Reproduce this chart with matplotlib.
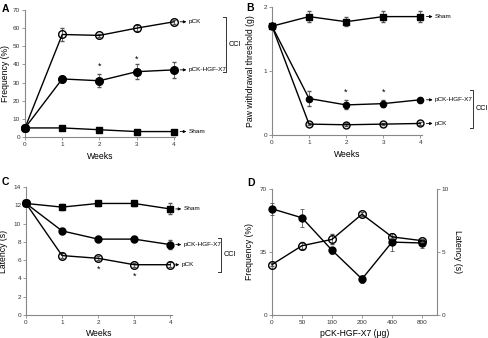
import matplotlib
matplotlib.use("Agg")
import matplotlib.pyplot as plt
import matplotlib.transforms as mt
import numpy as np

plt.rcParams['font.family'] = ['Liberation Sans', 'DejaVu Sans']

weeks = [0, 1, 2, 3, 4]

# A - frequency (%)
a_pck = [5, 56.5, 56, 60, 63.5]
a_pck_err = [0, 3.5, 1, 1.5, 1.2]
a_hgf = [5, 32, 31, 36, 37]
a_hgf_err = [0, 1.5, 3.5, 4, 4.5]
a_sham = [5, 5, 4, 3, 3]
a_sham_err = [0, 0.5, 0.5, 0.5, 0.5]

# B - paw withdrawal threshold (g)
b_sham = [1.7, 1.85, 1.77, 1.85, 1.85]
b_sham_err = [0, 0.09, 0.07, 0.09, 0.09]
b_hgf = [1.7, 0.57, 0.47, 0.49, 0.55]
b_hgf_err = [0, 0.11, 0.07, 0.06, 0.02]
b_pck = [1.7, 0.17, 0.16, 0.17, 0.18]
b_pck_err = [0, 0.02, 0.02, 0.02, 0.02]

# C - latency (s)
c_sham = [12.2, 11.8, 12.2, 12.2, 11.6]
c_sham_err = [0.2, 0.3, 0.3, 0.3, 0.6]
c_hgf = [12.2, 9.2, 8.3, 8.3, 7.7]
c_hgf_err = [0.2, 0.3, 0.3, 0.3, 0.5]
c_pck = [12.2, 6.5, 6.2, 5.5, 5.5]
c_pck_err = [0.2, 0.3, 0.2, 0.2, 0.3]

# D - dose response
doses = ['0', '50', '100', '200', '400', '800']
d_freq = [59, 54, 36, 20, 40.5, 40]
d_freq_err = [3.5, 5, 2, 2, 5, 2.5]
d_lat = [4.0, 5.5, 6.0, 8.0, 6.2, 5.9]
d_lat_err = [0.1, 0.3, 0.4, 0.15, 0.1, 0.1]

W, H = 489, 338
fig = plt.figure(figsize=(W / 100, H / 100), dpi=100)
gray = '#888888'
fs = 4.6      # tick labels / tags
lfs = 6.2     # axis labels


def box(l, r, b, t):
    return [l / W, (H - b) / H, (r - l) / W, (b - t) / H]


def style(ax):
    for s in ['top', 'right']:
        ax.spines[s].set_visible(False)
    for s in ['left', 'bottom']:
        ax.spines[s].set_color(gray)
        ax.spines[s].set_linewidth(0.8)
    ax.tick_params(labelsize=fs, length=2, width=0.6, color=gray, pad=1.5, labelcolor='#333333')


def series(ax, x, y, e, marker, ms=5, open_=False):
    ax.errorbar(x, y, yerr=e, color='black', lw=1, marker=marker, ms=ms,
                mfc='none' if open_ else 'black', mec='black', mew=1,
                ecolor='#555555', elinewidth=0.6, capsize=1.5, capthick=0.6,
                clip_on=False, zorder=3)


def label_arrow(ax, x, y, text, off=4.5, ln=4.5):
    # small arrow from the last marker to the series name
    t0 = ax.transData + mt.ScaledTranslation(off / 72, 0, fig.dpi_scale_trans)
    t1 = ax.transData + mt.ScaledTranslation((off + ln) / 72, 0, fig.dpi_scale_trans)
    ax.annotate('', xy=(x, y), xycoords=t1, xytext=(x, y), textcoords=t0,
                annotation_clip=False,
                arrowprops=dict(arrowstyle='-|>', color='black', lw=0.6,
                                shrinkA=0, shrinkB=0, mutation_scale=4))
    ax.annotate(text, xy=(x, y), xytext=(off + ln + 1.5, 0), textcoords='offset points',
                fontsize=fs, va='center', ha='left', annotation_clip=False)


def bracket(y0, y1, x, text):
    fx = x / W
    fy0 = (H - y0) / H
    fy1 = (H - y1) / H
    tk = 3 / W
    fig.add_artist(plt.Line2D([fx - tk, fx, fx, fx - tk], [fy0, fy0, fy1, fy1],
                              color='#333333', lw=0.7))
    fig.text(fx + 2.5 / W, (fy0 + fy1) / 2, text, fontsize=5.2, va='center', ha='left')


# ---- A
axA = fig.add_axes(box(25, 175, 137, 10))
style(axA)
series(axA, weeks, a_pck, a_pck_err, 'o', 5.5, True)
series(axA, weeks, a_hgf, a_hgf_err, 'o', 5.5)
series(axA, weeks, a_sham, a_sham_err, 's', 5)
axA.set_xlim(0, 4.03)
axA.set_ylim(0, 70)
axA.set_xticks(weeks)
axA.set_yticks(range(0, 71, 10))
axA.set_xlabel('Weeks', fontsize=lfs, labelpad=4)
axA.set_ylabel('Frequency (%)', fontsize=lfs, labelpad=2)
for w, y in [(2, 39), (3, 43)]:
    axA.text(w, y, '*', fontsize=6.5, ha='center', va='center')
label_arrow(axA, 4, a_pck[-1], 'pCK')
label_arrow(axA, 4, a_hgf[-1], 'pCK-HGF-X7')
label_arrow(axA, 4, a_sham[-1], 'Sham')
fig.text(2 / W, 1 - 9 / H, 'A', fontsize=7.5, fontweight='bold', va='center')
bracket(17, 72, 226, 'CCI')

# ---- B
axB = fig.add_axes(box(272, 422, 135, 7))
style(axB)
series(axB, weeks, b_sham, b_sham_err, 's', 4.5)
series(axB, weeks, b_hgf, b_hgf_err, 'o', 4.5)
series(axB, weeks, b_pck, b_pck_err, 'o', 5, True)
axB.set_xlim(0, 4.05)
axB.set_ylim(0, 2)
axB.set_xticks(weeks)
axB.set_yticks([0, 1, 2])
axB.set_xlabel('Weeks', fontsize=lfs, labelpad=4)
axB.set_ylabel('Paw withdrawal threshold (g)', fontsize=lfs, labelpad=6)
for w, y in [(2, 0.67), (3, 0.67)]:
    axB.text(w, y, '*', fontsize=6.5, ha='center', va='center')
label_arrow(axB, 4, b_sham[-1], 'Sham')
label_arrow(axB, 4, b_hgf[-1], 'pCK-HGF-X7')
label_arrow(axB, 4, b_pck[-1], 'pCK')
fig.text(246 / W, 1 - 8 / H, 'B', fontsize=7.5, fontweight='bold', va='center')
bracket(90, 128, 473, 'CCI')

# ---- C
axC = fig.add_axes(box(26, 172, 315, 187))
style(axC)
series(axC, weeks, c_sham, c_sham_err, 's', 5)
series(axC, weeks, c_hgf, c_hgf_err, 'o', 5)
series(axC, weeks, c_pck, c_pck_err, 'o', 5.5, True)
axC.set_xlim(0, 4.05)
axC.set_ylim(0, 14)
axC.set_xticks(weeks)
axC.set_yticks(range(0, 15, 2))
axC.set_xlabel('Weeks', fontsize=lfs, labelpad=3)
axC.set_ylabel('Latency (s)', fontsize=lfs, labelpad=4)
for w, y in [(2, 5.0), (3, 4.2)]:
    axC.text(w, y, '*', fontsize=6.5, ha='center', va='center')
label_arrow(axC, 4, c_sham[-1], 'Sham', off=4, ln=4)
label_arrow(axC, 4, c_hgf[-1], 'pCK-HGF-X7', off=4, ln=4)
label_arrow(axC, 4, c_pck[-1], 'pCK', off=4, ln=2.5)
fig.text(2 / W, 1 - 182 / H, 'C', fontsize=7.5, fontweight='bold', va='center')
bracket(238, 272, 221, 'CCI')

# ---- D
axD = fig.add_axes(box(272, 437, 315, 189))
style(axD)
xd = np.arange(len(doses))
axD.errorbar(xd, d_freq, yerr=d_freq_err, color='black', lw=1, marker='o', ms=5,
             mfc='black', mec='black', ecolor='#555555', elinewidth=0.6,
             capsize=1.5, capthick=0.6, clip_on=False, zorder=3)
axD.set_xlim(0, 5.5)
axD.set_ylim(0, 70)
axD.set_yticks([0, 35, 70])
axD.set_xticks(xd)
axD.set_xticklabels(doses)
axD.set_xlabel('pCK-HGF-X7 (\u03bcg)', fontsize=lfs, labelpad=3)
axD.set_ylabel('Frequency (%)', fontsize=lfs, labelpad=4)
axD2 = axD.twinx()
for s in ['top', 'left', 'bottom']:
    axD2.spines[s].set_visible(False)
axD2.spines['right'].set_color(gray)
axD2.spines['right'].set_linewidth(0.8)
axD2.tick_params(labelsize=fs, length=2, width=0.6, color=gray, pad=1.5, labelcolor='#333333')
axD2.errorbar(xd, d_lat, yerr=d_lat_err, color='black', lw=1, marker='o', ms=5.5,
              mfc='none', mec='black', mew=1, ecolor='#555555', elinewidth=0.6,
              capsize=1.5, capthick=0.6, clip_on=False, zorder=3)
axD2.set_ylim(0, 10)
axD2.set_yticks([0, 5, 10])
axD2.set_ylabel('Latency (s)', fontsize=lfs, rotation=270, labelpad=9)
fig.text(247 / W, 1 - 183 / H, 'D', fontsize=7.5, fontweight='bold', va='center')

fig.savefig('out.png', dpi=100)
